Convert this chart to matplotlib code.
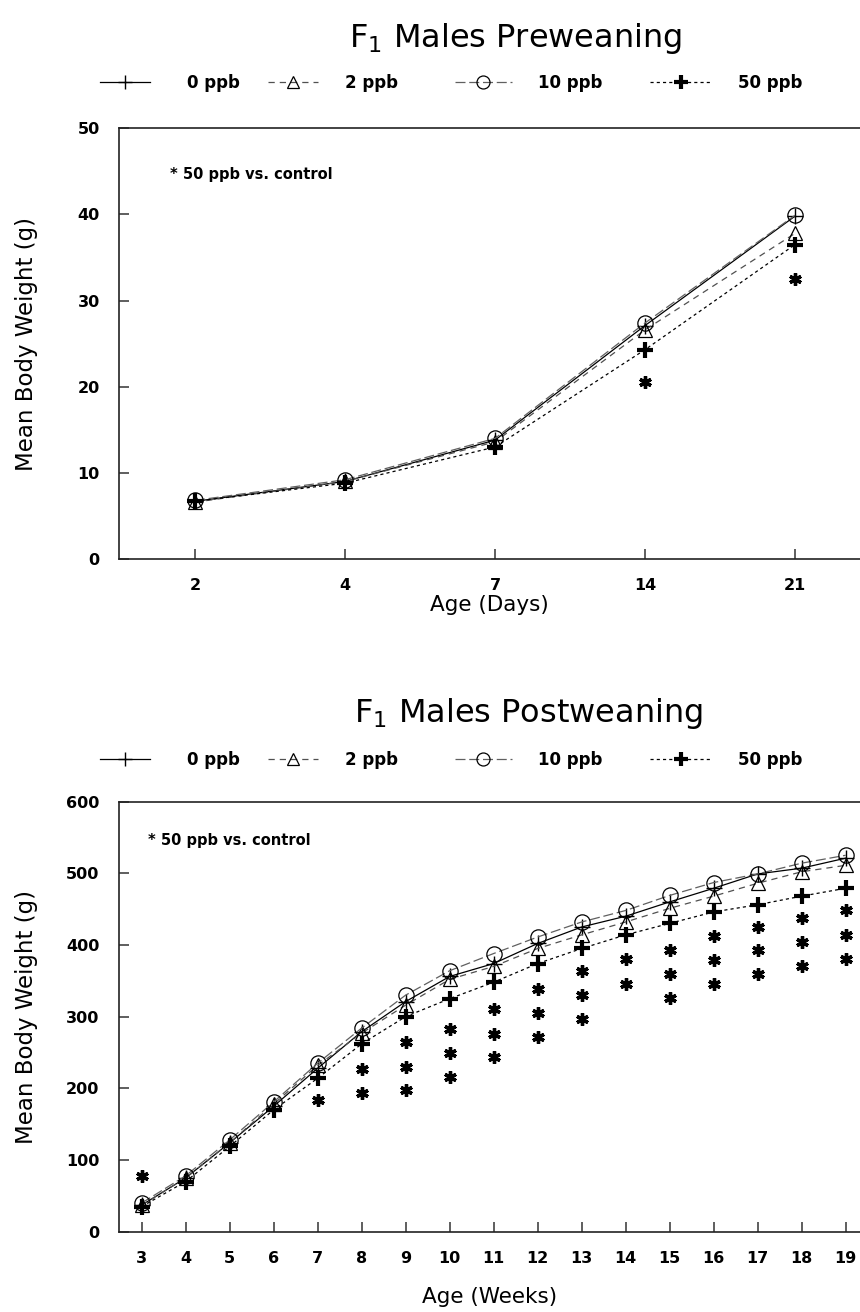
import matplotlib
matplotlib.use("Agg")
import matplotlib.pyplot as plt
from matplotlib.lines import Line2D

plt.rcParams['font.family'] = ['DejaVu Sans']
plt.rcParams['mathtext.fontset'] = 'dejavusans'

# ---------------- data ----------------
series_labels = ['0 ppb', '2 ppb', '10 ppb', '50 ppb']

pre_days = ['2', '4', '7', '14', '21']
pre_0 = [6.7, 9.0, 13.8, 27.1, 39.8]
pre_2 = [6.6, 9.0, 13.6, 26.6, 37.8]
pre_10 = [6.8, 9.2, 14.0, 27.4, 39.9]
pre_50 = [6.7, 8.8, 13.0, 24.3, 36.5]
pre_sig_day_idx = [3, 4]
pre_sig_y = [20.6, 32.5]

post_weeks = list(range(3, 20))
post_0 = [37, 75, 124, 175, 228, 279, 321, 356, 374, 402, 425, 440, 460, 479, 499, 507, 521]
post_2 = [37, 75, 124, 178, 232, 277, 316, 352, 370, 395, 414, 432, 451, 468, 486, 502, 511]
post_10 = [40, 78, 128, 181, 235, 284, 330, 364, 388, 411, 432, 448, 469, 487, 499, 514, 525]
post_50 = [35, 70, 119, 170, 214, 262, 300, 325, 348, 374, 395, 414, 430, 446, 456, 468, 479]
post_sig_week = [3, 7, 8, 8, 9, 9, 9, 10, 10, 10, 11, 11, 11, 12, 12, 12, 13, 13, 13,
                 14, 14, 15, 15, 15, 16, 16, 16, 17, 17, 17, 18, 18, 18, 19, 19, 19]
post_sig_y = [77, 184, 227, 194, 265, 230, 197, 283, 249, 216, 310, 276, 243, 338, 305, 272,
              364, 330, 297, 380, 346, 393, 359, 326, 413, 379, 346, 425, 393, 359,
              438, 404, 371, 448, 414, 380]

# ---------------- styles ----------------
styles = [
    dict(color='black', ls='-', lw=0.9, marker='+', ms=12, mew=1.0, mec='black'),
    dict(color='#505050', ls=(0, (5, 4)), lw=0.9, marker='^', ms=10, mew=0.9, mec='black',
         fillstyle='none'),
    dict(color='#606060', ls=(0, (8, 3)), lw=0.9, marker='o', ms=11, mew=0.9, mec='black',
         fillstyle='none'),
    dict(color='black', ls=(0, (2.5, 2.5)), lw=0.9, marker='+', ms=12, mew=3.0, mec='black'),
]

W, H = 860, 1312
fig = plt.figure(figsize=(W / 100, H / 100), dpi=100)


def fx(px):
    return px / W


def fy(py):
    return 1 - py / H


def style_axes(ax):
    ax.spines['right'].set_visible(False)
    for s in ['left', 'bottom', 'top']:
        ax.spines[s].set_linewidth(1.2)
        ax.spines[s].set_color('#222222')
    ax.tick_params(direction='in', length=7.5, width=1.1, color='#333333', pad=14,
                   labelsize=11.5)
    for lab in ax.get_xticklabels() + ax.get_yticklabels():
        lab.set_fontweight('bold')


def add_legend(ypx):
    xs = [100, 268, 455, 650]
    hl = [3.0, 3.0, 3.4, 3.7]
    for i, lbl in enumerate(series_labels):
        st = dict(styles[i])
        st['ms'] = st['ms'] * 0.85
        h = Line2D([], [], **st)
        fig.legend([h], [lbl], loc='center left',
                   bbox_to_anchor=(fx(xs[i]), fy(ypx)), frameon=False,
                   handlelength=hl[i], handletextpad=2.2 if i == 0 else 1.6,
                   borderpad=0, borderaxespad=0,
                   prop=dict(weight='bold', size=12))


# ---------------- top chart ----------------
ax1 = fig.add_axes([fx(119.3), fy(559), 1 - fx(119.3), (559 - 128.3) / H])
xpos = list(range(len(pre_days)))
for vals, st in zip([pre_0, pre_2, pre_10, pre_50], styles):
    ax1.plot(xpos, vals, **st)
ax1.plot(pre_sig_day_idx, pre_sig_y, ls='none', marker=(6, 2, 0), ms=9, mew=2.4,
         color='black')
ax1.set_xlim((119.3 - 195) / 150, (860 - 195) / 150)
ax1.set_ylim(0, 50)
ax1.set_xticks(xpos)
ax1.set_xticklabels(pre_days)
ax1.set_yticks(range(0, 51, 10))
style_axes(ax1)
ax1.set_xlabel('Age (Days)', fontsize=15.5)
ax1.xaxis.set_label_coords(0.5, -(595 - 559) / (559 - 128.3))
ax1.xaxis.label.set_va('top')
ax1.set_ylabel('Mean Body Weight (g)', fontsize=16.5)
ax1.yaxis.set_label_coords(-(119.3 - 27) / (860 - 119.3), 0.5)
ax1.yaxis.label.set_va('center')
ax1.text(fx(170), fy(175), '* 50 ppb vs. control', transform=fig.transFigure,
         fontsize=10.5, fontweight='bold', va='center', ha='left')

fig.text(fx(516), fy(47), r'$\mathregular{F_1}$ Males Preweaning', fontsize=23,
         ha='center', va='baseline')
add_legend(83)

# ---------------- bottom chart ----------------
ax2 = fig.add_axes([fx(119), fy(1231.7), 1 - fx(119), (1231.7 - 801.5) / H])
for vals, st in zip([post_0, post_2, post_10, post_50], styles):
    ax2.plot(post_weeks, vals, **st)
ax2.plot(post_sig_week, post_sig_y, ls='none', marker=(6, 2, 0), ms=9, mew=2.4,
         color='black')
ax2.set_xlim(3 - (141.7 - 119) / 44, 19 + (860 - 845.7) / 44)
ax2.set_ylim(0, 600)
ax2.set_xticks(post_weeks)
ax2.set_yticks(range(0, 601, 100))
style_axes(ax2)
ax2.set_xlabel('Age (Weeks)', fontsize=15.5)
ax2.xaxis.set_label_coords(0.5, -(1297 - 1231.7) / (1231.7 - 801.5))
ax2.xaxis.label.set_va('center')
ax2.set_ylabel('Mean Body Weight (g)', fontsize=16.5)
ax2.yaxis.set_label_coords(-(119 - 27) / (860 - 119), 0.5)
ax2.yaxis.label.set_va('center')
ax2.text(fx(148), fy(840), '* 50 ppb vs. control', transform=fig.transFigure,
         fontsize=10.5, fontweight='bold', va='center', ha='left')

fig.text(fx(529), fy(722), r'$\mathregular{F_1}$ Males Postweaning', fontsize=23,
         ha='center', va='baseline')
add_legend(760)

fig.savefig('out.png', dpi=100)
